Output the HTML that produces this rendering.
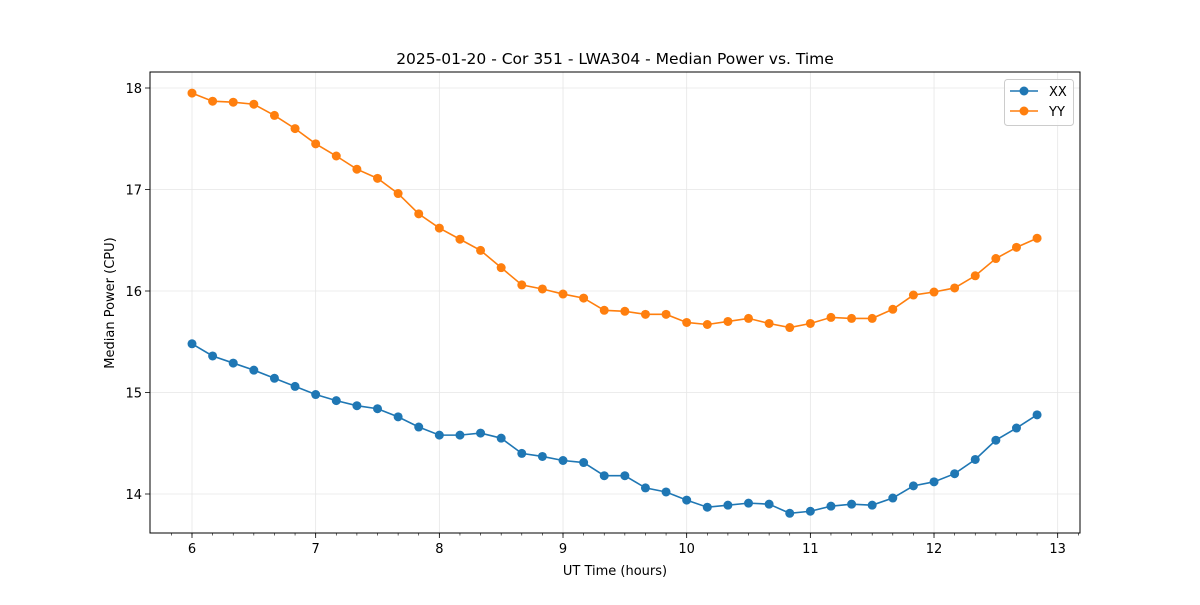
<!DOCTYPE html>
<html><head><meta charset="utf-8"><style>
body{margin:0;background:#fff;}
svg text{font-family:"DejaVu Sans","Liberation Sans",sans-serif;fill:#000;}
</style></head><body>
<svg id="chart" width="1200" height="600" xmlns="http://www.w3.org/2000/svg">
<rect width="1200" height="600" fill="#fff"/>
<g id="grid"></g>
<g id="series"></g>
<g id="axes"></g>
</svg>
<script>
const times = [];
for (let i = 0; i < 42; i++) times.push(6 + i / 6);
const xxValues = [15.48,15.36,15.29,15.22,15.14,15.06,14.98,14.92,14.87,14.84,14.76,14.66,14.58,14.58,14.60,14.55,14.40,14.37,14.33,14.31,14.18,14.18,14.06,14.02,13.94,13.87,13.89,13.91,13.90,13.81,13.83,13.88,13.90,13.89,13.96,14.08,14.12,14.20,14.34,14.53,14.65,14.78];
const yyValues = [17.95,17.87,17.86,17.84,17.73,17.60,17.45,17.33,17.20,17.11,16.96,16.76,16.62,16.51,16.40,16.23,16.06,16.02,15.97,15.93,15.81,15.80,15.77,15.77,15.69,15.67,15.70,15.73,15.68,15.64,15.68,15.74,15.73,15.73,15.82,15.96,15.99,16.03,16.15,16.32,16.43,16.52];
const xTicks = [6,7,8,9,10,11,12,13];
const yTicks = [14,15,16,17,18];
const seriesNames = ['XX','YY'];

const L=150,R=1080,T=72,B=533;
const xs = v => 192 + (v-6)*123.67;
const ys = v => 88 + (18-v)*101.5;
const NS='http://www.w3.org/2000/svg';
function mk(tag, attrs, parent){const e=document.createElementNS(NS,tag);for(const k in attrs)e.setAttribute(k,attrs[k]);parent.appendChild(e);return e;}
const grid=document.getElementById('grid'), ser=document.getElementById('series'), ax=document.getElementById('axes');
xTicks.forEach(t=>{
  const g=mk('line',{x1:xs(t),x2:xs(t),y1:T,y2:B,stroke:'#e6e6e6','stroke-width':0.8},grid);
  
  
  const tk=mk('line',{x1:xs(t),x2:xs(t),y1:B,y2:B+5,stroke:'#000','stroke-width':0.8},ax);
  
  
  const lb=mk('text',{x:xs(t),y:B+20,'text-anchor':'middle','font-size':13},ax);
  lb.textContent=t;
  
  
});
for(let m=5+5/6; m<13.2; m+=1/6){
  const x=xs(m); if(x<L||x>R) continue;
  const mt=mk('line',{x1:x,x2:x,y1:B,y2:B+2.5,stroke:'#000','stroke-width':0.6},ax);
  
  
}
yTicks.forEach(t=>{
  const g=mk('line',{x1:L,x2:R,y1:ys(t),y2:ys(t),stroke:'#e6e6e6','stroke-width':0.8},grid);
  
  
  const tk=mk('line',{x1:L-5,x2:L,y1:ys(t),y2:ys(t),stroke:'#000','stroke-width':0.8},ax);
  
  
  const lb=mk('text',{x:L-8,y:ys(t)+5,'text-anchor':'end','font-size':13},ax);
  lb.textContent=t;
  
  
});
const frame=mk('rect',{x:L,y:T,width:R-L,height:B-T,fill:'none',stroke:'#000','stroke-width':1},ax);


const colors=['#1f77b4','#ff7f0e'];
[xxValues,yyValues].forEach((vals,si)=>{
  const pts=vals.map((v,i)=>xs(times[i])+','+ys(v)).join(' ');
  const pl=mk('polyline',{points:pts,fill:'none',stroke:colors[si],'stroke-width':1.6},ser);
  
  
  vals.forEach((v,i)=>{
    const c=mk('circle',{cx:xs(times[i]),cy:ys(v),r:4.5,fill:colors[si]},ser);
    
    
  });
});
const t1=mk('text',{x:615,y:64,'text-anchor':'middle','font-size':15.5},ax);
t1.textContent='2025-01-20 - Cor 351 - LWA304 - Median Power vs. Time';


const xt=mk('text',{x:615,y:575,'text-anchor':'middle','font-size':13},ax);
xt.textContent='UT Time (hours)';


const yt=mk('text',{x:114,y:303,'text-anchor':'middle','font-size':13,transform:'rotate(-90 114 303)'},ax);
yt.textContent='Median Power (CPU)';


const lg=mk('g',{},ax);


mk('rect',{x:1004.5,y:79.5,width:69,height:46,rx:3,fill:'#fff','fill-opacity':0.8,stroke:'#ccc'},lg);
seriesNames.forEach((n,i)=>{
  const y=91+i*20;
  const e=mk('g',{},lg);
  
  
  mk('line',{x1:1010,x2:1038,y1:y,y2:y,stroke:colors[i],'stroke-width':1.6},e);
  mk('circle',{cx:1024,cy:y,r:4.5,fill:colors[i]},e);
  const tx=mk('text',{x:1049,y:y+5,'font-size':13},e);
  tx.textContent=n;
});
</script>
</body></html>
